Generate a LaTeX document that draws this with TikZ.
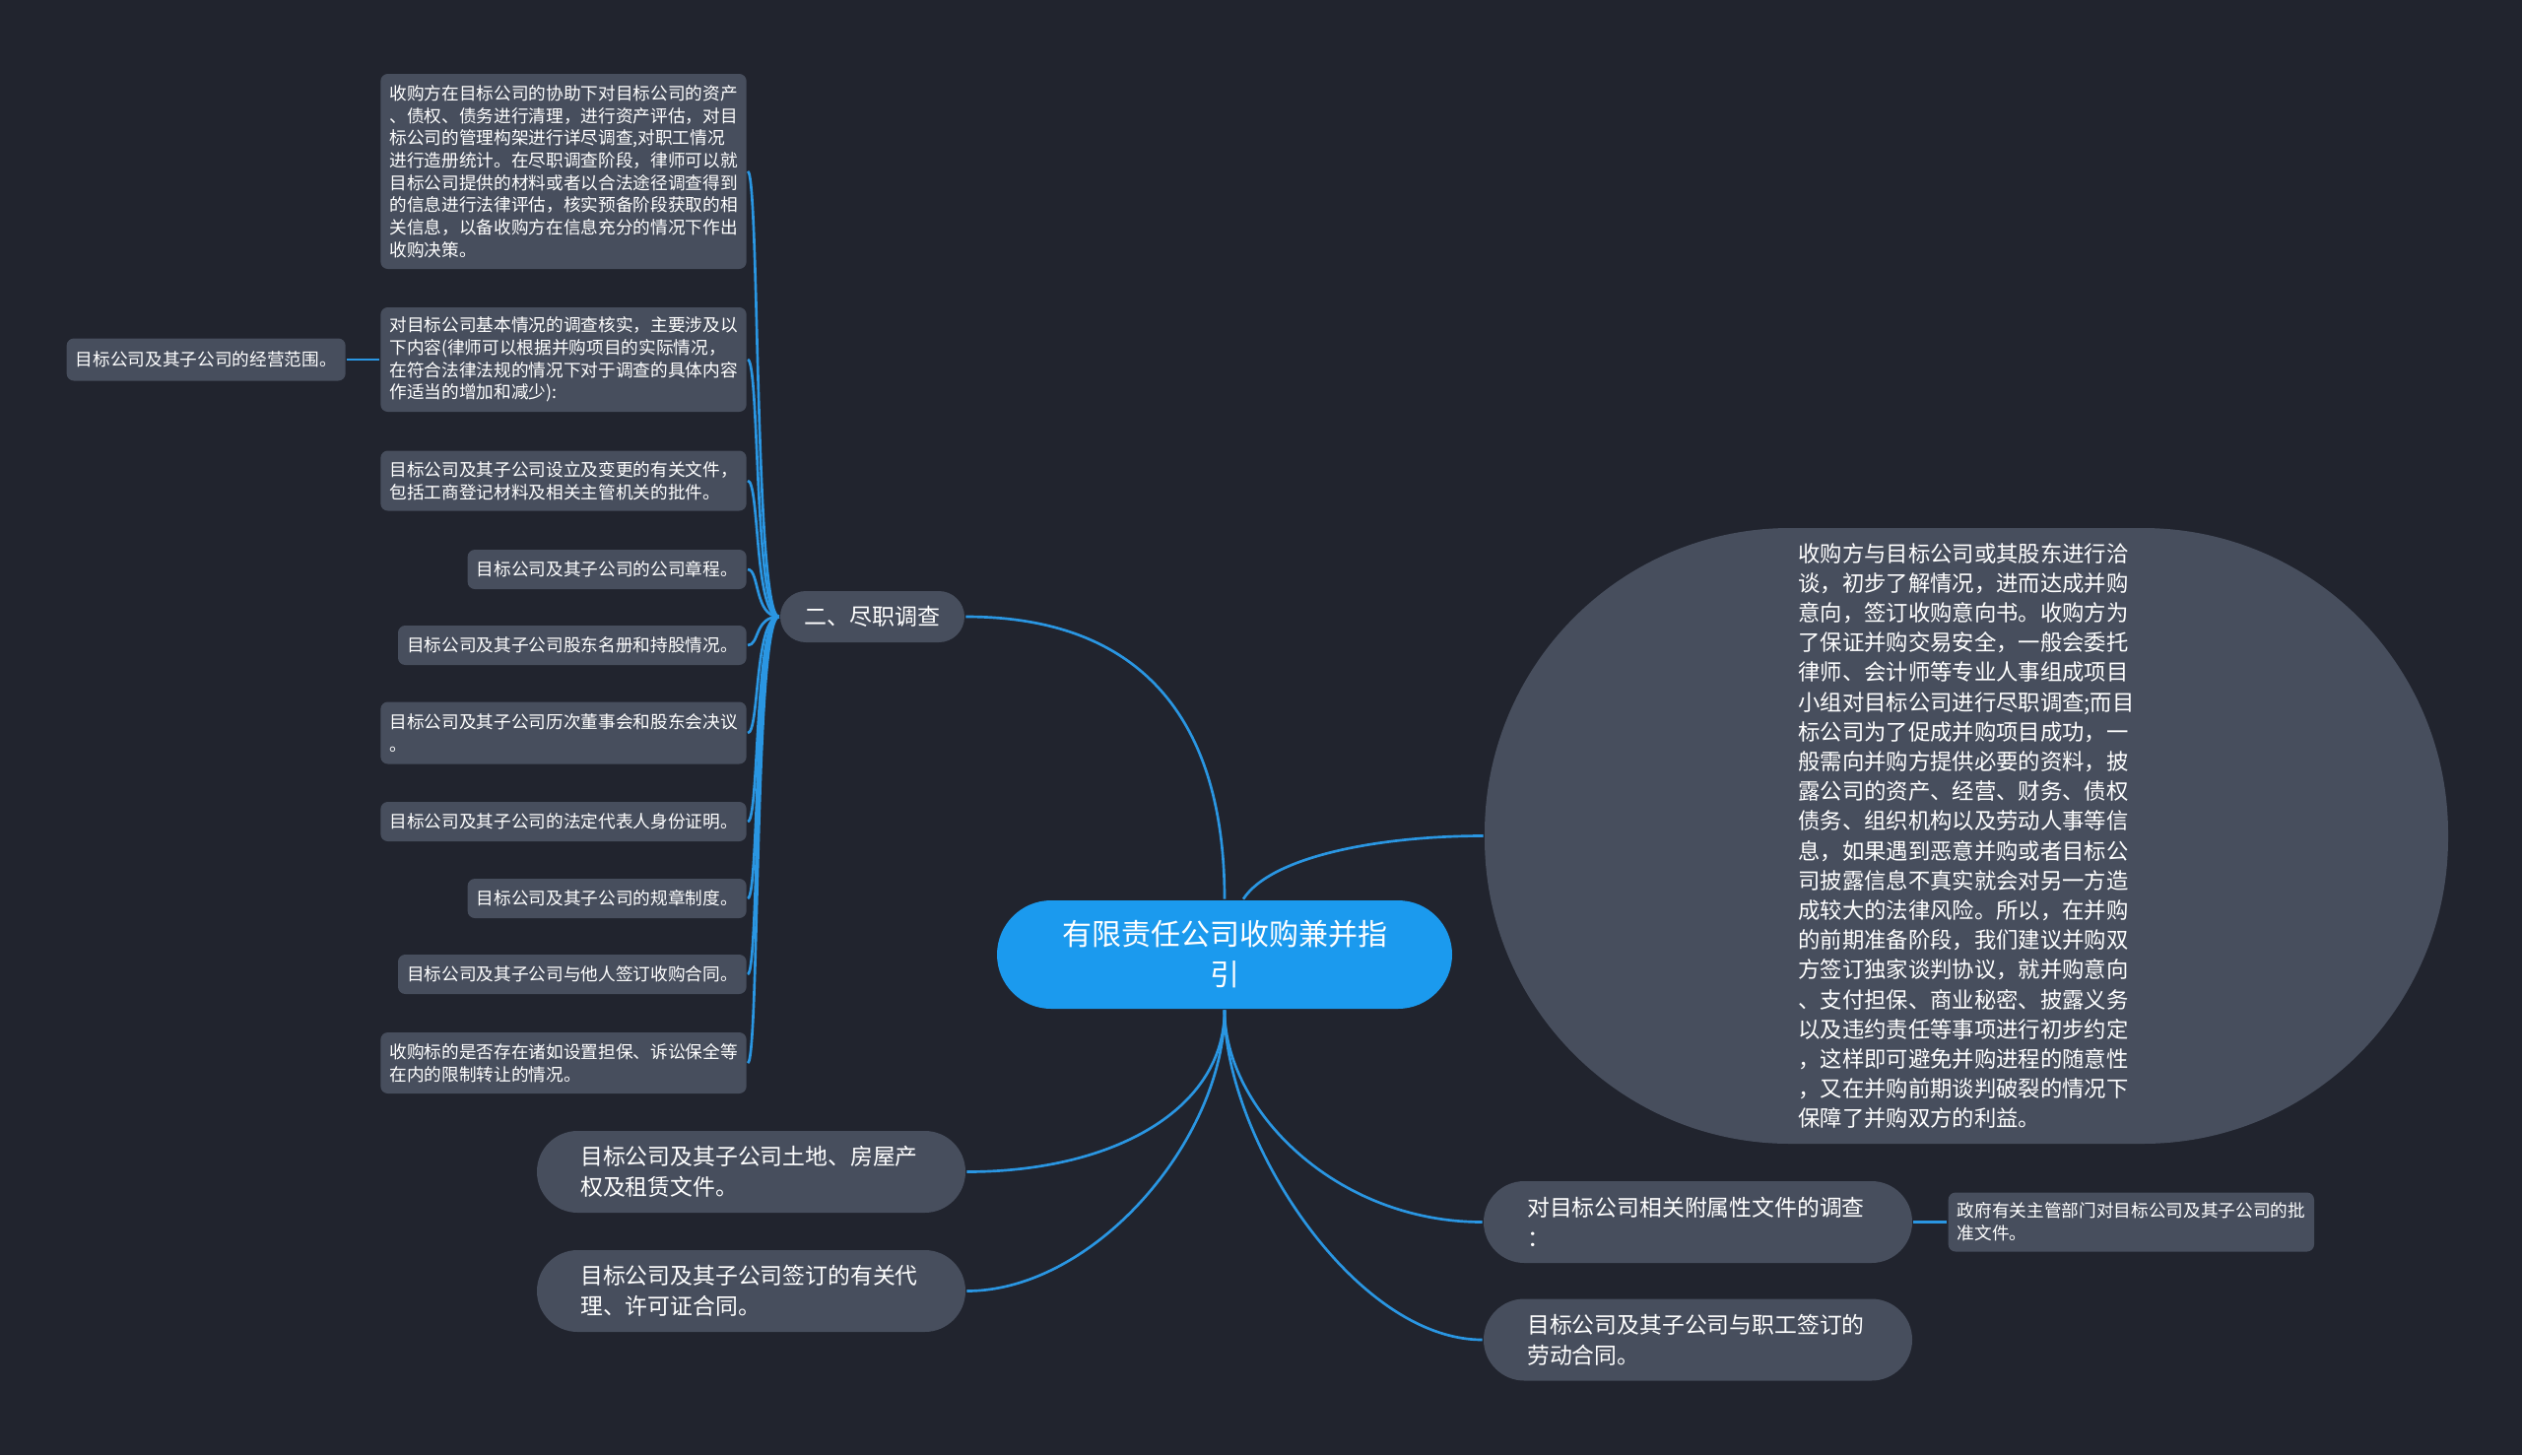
\documentclass[tikz,border=0pt]{standalone}
\usepackage{fontspec}
\setmainfont{Noto Sans CJK SC}
\usetikzlibrary{positioning}

\definecolor{bgcol}{HTML}{21242E}
\definecolor{boxcol}{HTML}{474E5D}
\definecolor{rootcol}{HTML}{1B9AEE}
\definecolor{linkcol}{HTML}{2A96E2}

\tikzset{every picture/.style={line width=0.8pt},
  leafbox/.style={fill=boxcol, text=white, rounded corners=2.2pt, align=left, anchor=east,
    inner xsep=2.7pt, inner ysep=0pt, font=\fontsize{5.3pt}{6.8pt}\selectfont},
  pillbox/.style={fill=boxcol, text=white, rounded corners=12.4pt, align=left, text width=104pt,
    inner xsep=13.25pt, inner ysep=0pt, minimum height=24.9pt, font=\fontsize{6.85pt}{9.3pt}\selectfont},
  link/.style={draw=linkcol, line width=0.8pt},
}

\begin{document}
\begin{tikzpicture}[x=0.3pt,y=0.3pt,yscale=-1,xscale=1]
%set diagram size 2560 x 1477
\fill[bgcol] (0,0) rectangle (2560,1477);
\useasboundingbox (0,0) rectangle (2560,1477);

% Root Node
\node [fill=rootcol, text=white, rounded corners=16.5pt, align=center, minimum width=138.6pt, minimum height=33pt,
  inner sep=0pt, font=\fontsize{9pt}{12.3pt}\selectfont] (root) at (1243,969) {有限责任公司收购兼并指\\引};

% Branch Node
\node [fill=boxcol, text=white, rounded corners=7.8pt, minimum width=56.1pt, minimum height=15.6pt,
  inner sep=0pt, font=\fontsize{6.9pt}{8pt}\selectfont] (dd) at (885.5,626) {二、尽职调查};

% Leaf Nodes (left column)
\node [leafbox, minimum height=59.4pt] (n1) at (759,174) {收购方在目标公司的协助下对目标公司的资产\\、债权、债务进行清理，进行资产评估，对目\\标公司的管理构架进行详尽调查,对职工情况\\进行造册统计。在尽职调查阶段，律师可以就\\目标公司提供的材料或者以合法途径调查得到\\的信息进行法律评估，核实预备阶段获取的相\\关信息，以备收购方在信息充分的情况下作出\\收购决策。};
\node [leafbox, minimum height=31.8pt] (n2) at (759,365) {对目标公司基本情况的调查核实，主要涉及以\\下内容(律师可以根据并购项目的实际情况，\\在符合法律法规的情况下对于调查的具体内容\\作适当的增加和减少):};
\node [leafbox, minimum height=12.9pt, left=9.9pt of n2, anchor=east] (n2a) {目标公司及其子公司的经营范围。};
\node [leafbox, minimum height=18.3pt] (n3) at (759,488) {目标公司及其子公司设立及变更的有关文件，\\包括工商登记材料及相关主管机关的批件。};
\node [leafbox, minimum height=12pt] (n4) at (759,578) {目标公司及其子公司的公司章程。};
\node [leafbox, minimum height=12pt] (n5) at (759,655) {目标公司及其子公司股东名册和持股情况。};
\node [leafbox, minimum height=18.9pt] (n6) at (759,744) {目标公司及其子公司历次董事会和股东会决议\\。};
\node [leafbox, minimum height=12pt] (n7) at (759,834) {目标公司及其子公司的法定代表人身份证明。};
\node [leafbox, minimum height=12pt] (n8) at (759,912) {目标公司及其子公司的规章制度。};
\node [leafbox, minimum height=12pt] (n9) at (759,989) {目标公司及其子公司与他人签订收购合同。};
\node [leafbox, minimum height=18.6pt] (n10) at (759,1079) {收购标的是否存在诸如设置担保、诉讼保全等\\在内的限制转让的情况。};

% Pill Nodes
\node [pillbox] (lp1) at (762.5,1189.5) {目标公司及其子公司土地、房屋产\\权及租赁文件。};
\node [pillbox] (lp2) at (762.5,1310.5) {目标公司及其子公司签订的有关代\\理、许可证合同。};
\node [pillbox] (rp1) at (1723.5,1240.5) {对目标公司相关附属性文件的调查\\：};
\node [pillbox] (rp2) at (1723.5,1360) {目标公司及其子公司与职工签订的\\劳动合同。};
\node [leafbox, minimum height=18pt, right=10.2pt of rp1, anchor=west] (rp1a) {政府有关主管部门对目标公司及其子公司的批\\准文件。};

% Big Node
\node [fill=boxcol, text=white, rounded corners=93pt, align=left, minimum width=293.4pt, minimum height=187.5pt,
  inner sep=0pt, font=\fontsize{6.7pt}{9.06pt}\selectfont] (big) at (1996,848.5) {收购方与目标公司或其股东进行洽\\谈，初步了解情况，进而达成并购\\意向，签订收购意向书。收购方为\\了保证并购交易安全，一般会委托\\律师、会计师等专业人事组成项目\\小组对目标公司进行尽职调查;而目\\标公司为了促成并购项目成功，一\\般需向并购方提供必要的资料，披\\露公司的资产、经营、财务、债权\\债务、组织机构以及劳动人事等信\\息，如果遇到恶意并购或者目标公\\司披露信息不真实就会对另一方造\\成较大的法律风险。所以，在并购\\的前期准备阶段，我们建议并购双\\方签订独家谈判协议，就并购意向\\、支付担保、商业秘密、披露义务\\以及违约责任等事项进行初步约定\\，这样即可避免并购进程的随意性\\，又在并购前期谈判破裂的情况下\\保障了并购双方的利益。};

% Links from root
\draw[link] (root.north) .. controls +(0,-180) and +(180,0) .. (dd.east);
\draw[link] ([xshift=5.7pt]root.north) .. controls +(28,-43) and +(-107,0) .. (big.west);
\draw[link] (root.south) .. controls +(0,100) and +(150,0) .. (lp1.east);
\draw[link] (root.south) .. controls +(0,130) and +(130,0) .. (lp2.east);
\draw[link] (root.south) .. controls +(0,100) and +(-150,0) .. (rp1.west);
\draw[link] (root.south) .. controls +(0,130) and +(-130,0) .. (rp2.west);

% Links from branch
\foreach \n in {n1,n2,n3,n4,n5,n6,n7,n8,n9,n10}
  \draw[link] (dd.west) .. controls +(-25,0) and +(12,0) .. (\n.east);
\draw[link] (n2.west) -- (n2a.east);
\draw[link] (rp1.east) -- (rp1a.west);

\end{tikzpicture}
\end{document}
